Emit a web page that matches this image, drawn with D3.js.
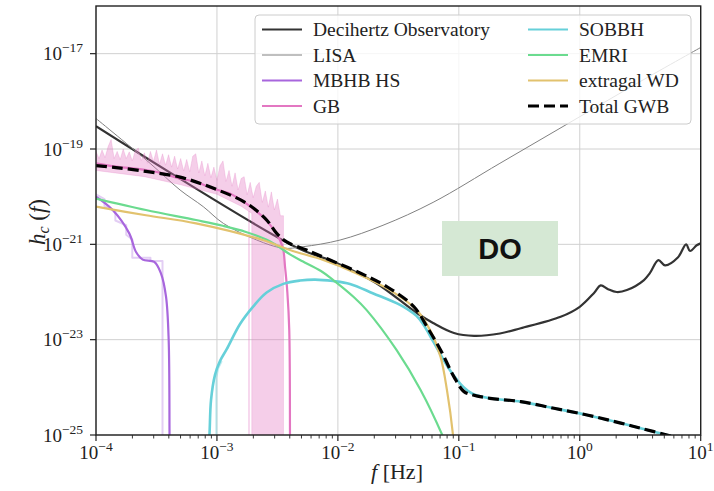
<!DOCTYPE html>
<html>
<head>
<meta charset="utf-8">
<script src="https://cdn.jsdelivr.net/npm/d3@7"></script>
<style>
  body { margin: 0; background: #fff; }
  svg { display: block; }
</style>
</head>
<body>
<div id="chart"></div>
<script>
// all curve points are [log10 f (Hz), log10 h_c]
const doCurve = [[-4, -18.52], [-2.346, -21.06], [-2.01, -21.39], [-1.685, -21.81], [-1.348, -22.44],
    [-1.213, -22.65], [-1.04, -22.86], [-0.874, -22.92], [-0.66, -22.87], [-0.488, -22.76],
    [-0.158, -22.52], [0.0, -22.31], [0.118, -22.02], [0.173, -21.86], [0.234, -21.94],
    [0.305, -22.0], [0.39, -21.96], [0.531, -21.75], [0.581, -21.6], [0.65, -21.33],
    [0.705, -21.44], [0.813, -21.27], [0.879, -21.0], [0.912, -21.14], [0.967, -21.02], [1.0, -20.98]];

const lisaCurve = [[-4, -18.36], [-3.553, -19.3], [-3.305, -19.86], [-3.113, -20.21], [-2.947, -20.56],
    [-2.671, -20.91], [-2.454, -21.08], [-2.288, -21.05], [-1.982, -20.91], [-1.627, -20.6],
    [-1.213, -20.12], [-0.66, -19.3], [-0.106, -18.48], [0.448, -17.66], [1.0, -16.87]];

const mbhbCurve = [[-4, -20.0], [-3.862, -20.28], [-3.725, -20.77], [-3.669, -21.16], [-3.614, -21.32],
    [-3.518, -21.37], [-3.463, -21.61], [-3.421, -22.1], [-3.399, -23.01], [-3.392, -25.0], [-3.39, -26]];

const mbhbRaw = [[-4, -19.95], [-3.93, -20.05], [-3.93, -20.2], [-3.84, -20.3], [-3.84, -20.5],
    [-3.75, -20.6], [-3.75, -20.8], [-3.7, -20.9], [-3.7, -21.28], [-3.55, -21.28], [-3.55, -21.35],
    [-3.45, -21.35], [-3.45, -26]];

const gbCurve = [[-4, -19.3], [-3.835, -19.37], [-3.587, -19.44], [-3.449, -19.51], [-3.311, -19.62],
    [-3.173, -19.69], [-3.035, -19.83], [-2.898, -19.93], [-2.76, -20.14], [-2.622, -20.42],
    [-2.539, -20.66], [-2.479, -20.91], [-2.451, -21.12], [-2.437, -21.47], [-2.418, -22.0],
    [-2.402, -22.8], [-2.396, -25.0], [-2.395, -26]];

// raw GB spectrum: frequencies of the spikes and their tops
const gbRawF = [-4.0, -3.975, -3.95, -3.925, -3.9, -3.875, -3.85, -3.825, -3.8, -3.775, -3.75, -3.725,
    -3.7, -3.675, -3.65, -3.625, -3.6, -3.575, -3.55, -3.525, -3.5, -3.475, -3.45, -3.425, -3.4,
    -3.375, -3.35, -3.325, -3.3, -3.275, -3.25, -3.225, -3.2, -3.175, -3.15, -3.125, -3.1, -3.075,
    -3.05, -3.025, -3.0, -2.975, -2.95, -2.925, -2.9, -2.875, -2.85, -2.825, -2.8, -2.775, -2.75,
    -2.725, -2.7, -2.675, -2.65, -2.625, -2.6, -2.575, -2.55, -2.525, -2.5, -2.475, -2.45];
const gbRawTop = [-19.05, -19.2, -19.02, -19.18, -18.95, -18.8, -19.2, -19.05, -19.22, -19.0, -19.2,
    -19.06, -19.25, -19.03, -18.98, -19.24, -19.08, -19.3, -19.05, -19.26, -19.02, -19.32, -19.1,
    -19.34, -19.12, -19.38, -19.15, -19.42, -19.2, -19.46, -19.22, -19.48, -19.15, -19.1, -19.5,
    -19.25, -19.56, -19.3, -19.6, -19.38, -19.66, -19.35, -19.25, -19.68, -19.45, -19.78, -19.5,
    -19.86, -19.62, -19.58, -19.96, -19.7, -20.02, -19.78, -19.7, -20.12, -19.88, -20.22, -19.9,
    -20.28, -20.05, -20.4, -20.4];
// lower edge of the raw GB band, right to left (it reaches zero inside the dense band)
const gbRawLow = [[-2.45, -26], [-2.712, -26], [-2.712, -20.35], [-2.8, -20.2], [-3.0, -19.95],
    [-3.3, -19.75], [-3.6, -19.58], [-4.0, -19.45]];
const gbRawSpike = [[-2.735, -20.3], [-2.735, -26]];

const sobbhCurve = [[-3.07, -25.21], [-3.062, -25.0], [-3.049, -24.27], [-3.016, -23.74], [-2.975, -23.45],
    [-2.919, -23.2], [-2.809, -22.67], [-2.699, -22.3], [-2.589, -22.01], [-2.451, -21.83],
    [-2.313, -21.76], [-2.189, -21.74], [-2.04, -21.77], [-1.9, -21.83], [-1.707, -22.03],
    [-1.486, -22.27], [-1.42, -22.37], [-1.35, -22.5], [-1.296, -22.67], [-1.238, -22.92],
    [-1.156, -23.29], [-1.073, -23.64], [-0.963, -23.99], [-0.883, -24.14], [-0.742, -24.23],
    [-0.488, -24.3], [-0.213, -24.44], [0.06, -24.58], [0.339, -24.75], [0.614, -24.93], [0.994, -25.18]];
const sobbhRaw = [[-3.005, -26], [-3.005, -23.8], [-2.99, -23.6], [-2.96, -23.45]];

const emriCurve = [[-4, -20.04], [-3.587, -20.28], [-3.173, -20.49], [-2.952, -20.61], [-2.76, -20.74],
    [-2.567, -20.93], [-2.396, -21.21], [-2.313, -21.33], [-2.14, -21.56], [-2.038, -21.75],
    [-1.867, -22.11], [-1.762, -22.38], [-1.514, -23.22], [-1.315, -24.06], [-1.137, -25.0], [-1.098, -25.25]];

const wdCurve = [[-4, -20.21], [-3.587, -20.39], [-3.173, -20.56], [-2.622, -20.91], [-2.396, -21.12],
    [-2.121, -21.33], [-1.844, -21.61], [-1.569, -21.96], [-1.348, -22.38], [-1.238, -22.8],
    [-1.151, -23.36], [-1.098, -24.06], [-1.048, -25.0], [-1.032, -25.52]];

const totalCurve = [[-4, -19.35], [-3.835, -19.39], [-3.587, -19.47], [-3.305, -19.59], [-3.033, -19.82],
    [-2.754, -20.14], [-2.589, -20.49], [-2.506, -20.77], [-2.423, -20.95], [-2.258, -21.12],
    [-2.065, -21.33], [-1.817, -21.6], [-1.594, -21.89], [-1.371, -22.31], [-1.263, -22.73],
    [-1.15, -23.22], [-1.04, -23.78], [-0.957, -24.09], [-0.883, -24.16], [-0.742, -24.23],
    [-0.488, -24.3], [-0.213, -24.44], [0.06, -24.58], [0.339, -24.75], [0.614, -24.93], [0.994, -25.18]];

const xTickExp = [-4, -3, -2, -1, 0, 1];
const yTickExp = [-25, -23, -21, -19, -17];

const legendItems = [
    {name: 'Decihertz Observatory', color: '#333333', width: 2.2, dash: null},
    {name: 'LISA', color: '#808080', width: 1, dash: null},
    {name: 'MBHB HS', color: '#a866dd', width: 2.2, dash: null},
    {name: 'GB', color: '#e377c2', width: 2.2, dash: null},
    {name: 'SOBBH', color: '#66d0d9', width: 2.2, dash: null},
    {name: 'EMRI', color: '#6bdb8f', width: 2.2, dash: null},
    {name: 'extragal WD', color: '#e2c26e', width: 2.2, dash: null},
    {name: 'Total GWB', color: '#000000', width: 3, dash: '11,5'},
];

const W = 714, H = 491;
const pLeft = 96, pRight = 700.7, pTop = 6, pBottom = 435;
const serif = "'Liberation Serif', 'DejaVu Serif', serif";

const x = d3.scaleLog().domain([1e-4, 10]).range([pLeft, pRight]);
const y = d3.scaleLog().domain([1e-25, 1e-16]).range([pBottom, pTop]);

const svg = d3.select('#chart').append('svg')
    .attr('width', W).attr('height', H);

svg.append('defs').append('clipPath').attr('id', 'plot')
    .append('rect').attr('x', pLeft).attr('y', pTop)
    .attr('width', pRight - pLeft).attr('height', pBottom - pTop);

// grid
const grid = svg.append('g').attr('stroke', '#d0d0d0').attr('stroke-width', 1);
xTickExp.forEach(e => {
    grid.append('line').attr('x1', x(10 ** e)).attr('x2', x(10 ** e)).attr('y1', pTop).attr('y2', pBottom);
});
yTickExp.forEach(e => {
    grid.append('line').attr('y1', y(10 ** e)).attr('y2', y(10 ** e)).attr('x1', pLeft).attr('x2', pRight);
});

const line = d3.line()
    .x(d => x(10 ** d[0]))
    .y(d => y(10 ** d[1]));
const smooth = d3.line()
    .x(d => x(10 ** d[0]))
    .y(d => y(10 ** d[1]))
    .curve(d3.curveCatmullRom.alpha(0.5));

const plot = svg.append('g').attr('clip-path', 'url(#plot)');

function curve(data, color, width, opts = {}) {
    plot.append('path')
        .attr('d', (opts.steps ? line : smooth)(data))
        .attr('fill', 'none')
        .attr('stroke', color)
        .attr('stroke-width', width)
        .attr('stroke-opacity', opts.opacity || 1)
        .attr('stroke-dasharray', opts.dash || null)
        .attr('stroke-linejoin', 'round');
}

curve(doCurve, '#333333', 2.2);
curve(lisaCurve, '#808080', 1);

// raw (unsmoothed) spectra, transparent
const gbPoly = gbRawF.map((f, i) => [f, gbRawTop[i]]).concat(gbRawLow);
plot.append('path')
    .attr('d', line(gbPoly) + 'Z')
    .attr('fill', '#e377c2')
    .attr('fill-opacity', 0.36)
    .attr('stroke', '#e377c2')
    .attr('stroke-opacity', 0.3)
    .attr('stroke-width', 0.8);
curve(gbRawSpike, '#e377c2', 1.5, {opacity: 0.38, steps: true});
curve(mbhbRaw, '#a866dd', 2, {opacity: 0.32, steps: true});
curve(sobbhRaw, '#66d0d9', 2, {opacity: 0.4, steps: true});

curve(mbhbCurve, '#a866dd', 2.2);
curve(gbCurve, '#e377c2', 2.2);
curve(sobbhCurve, '#66d0d9', 2.6);
curve(emriCurve, '#6bdb8f', 2.2);
curve(wdCurve, '#e2c26e', 2.2);
curve(totalCurve, '#000000', 3.2, {dash: '11,5'});

// DO label
svg.append('rect')
    .attr('x', 442).attr('y', 221).attr('width', 116).attr('height', 55)
    .attr('fill', '#d5e8d4');
svg.append('text')
    .attr('x', 500).attr('y', 259)
    .attr('text-anchor', 'middle')
    .attr('font-family', "'Liberation Sans', Arial, sans-serif")
    .attr('font-weight', 'bold')
    .attr('font-size', 29)
    .attr('fill', '#111')
    .text('DO');

// spines
svg.append('rect')
    .attr('x', pLeft).attr('y', pTop)
    .attr('width', pRight - pLeft).attr('height', pBottom - pTop)
    .attr('fill', 'none').attr('stroke', '#222').attr('stroke-width', 1.4);

// x ticks
const xAxis = svg.append('g').attr('stroke', '#222');
xTickExp.forEach(e => {
    xAxis.append('line').attr('x1', x(10 ** e)).attr('x2', x(10 ** e))
        .attr('y1', pBottom).attr('y2', pBottom + 6).attr('stroke-width', 1.2);
    if (e < 1) {
        for (let m = 2; m <= 9; m++) {
            xAxis.append('line').attr('x1', x(m * 10 ** e)).attr('x2', x(m * 10 ** e))
                .attr('y1', pBottom).attr('y2', pBottom + 3.5).attr('stroke-width', 0.9);
        }
    }
    const t = svg.append('text')
        .attr('x', x(10 ** e)).attr('y', 459)
        .attr('text-anchor', 'middle')
        .attr('font-family', serif).attr('font-size', 19).attr('fill', '#222');
    t.append('tspan').text('10');
    t.append('tspan').attr('dy', -8).attr('font-size', 13.5).text(e < 0 ? '\u2212' + (-e) : e);
});

// y ticks
yTickExp.forEach(e => {
    svg.append('line').attr('x1', pLeft - 6).attr('x2', pLeft)
        .attr('y1', y(10 ** e)).attr('y2', y(10 ** e))
        .attr('stroke', '#222').attr('stroke-width', 1.2);
    const t = svg.append('text')
        .attr('x', 83).attr('y', y(10 ** e) + 6.5)
        .attr('text-anchor', 'end')
        .attr('font-family', serif).attr('font-size', 19).attr('fill', '#222');
    t.append('tspan').text('10');
    t.append('tspan').attr('dy', -8).attr('font-size', 13.5).text('\u2212' + (-e));
});

// axis labels
const xl = svg.append('text')
    .attr('x', 397).attr('y', 479)
    .attr('text-anchor', 'middle')
    .attr('font-family', serif).attr('font-size', 22).attr('fill', '#222');
xl.append('tspan').attr('font-style', 'italic').text('f');
xl.append('tspan').text(' [Hz]');

const yl = svg.append('text')
    .attr('transform', 'translate(45, 222) rotate(-90)')
    .attr('text-anchor', 'middle')
    .attr('font-family', serif).attr('font-size', 23).attr('fill', '#222');
yl.append('tspan').attr('font-style', 'italic').text('h');
yl.append('tspan').attr('font-style', 'italic').attr('font-size', 16).attr('dy', 4).text('c');
yl.append('tspan').attr('dy', -4).text(' (');
yl.append('tspan').attr('font-style', 'italic').text('f');
yl.append('tspan').text(')');

// legend
const lg = svg.append('g');
lg.append('rect')
    .attr('x', 255).attr('y', 15).attr('width', 436).attr('height', 109).attr('rx', 4)
    .attr('fill', '#fff').attr('fill-opacity', 0.8)
    .attr('stroke', '#cccccc').attr('stroke-width', 1);
legendItems.forEach((d, i) => {
    const col = Math.floor(i / 4), row = i % 4;
    const lx = col === 0 ? 262 : 528;
    const ly = 29.5 + row * 25.5;
    lg.append('line')
        .attr('x1', lx).attr('x2', lx + 40).attr('y1', ly).attr('y2', ly)
        .attr('stroke', d.color).attr('stroke-width', d.width)
        .attr('stroke-dasharray', d.dash);
    lg.append('text')
        .attr('x', lx + 51).attr('y', ly + 6.5)
        .attr('font-family', serif).attr('font-size', 19.5).attr('fill', '#222')
        .text(d.name);
});
</script>
</body>
</html>
